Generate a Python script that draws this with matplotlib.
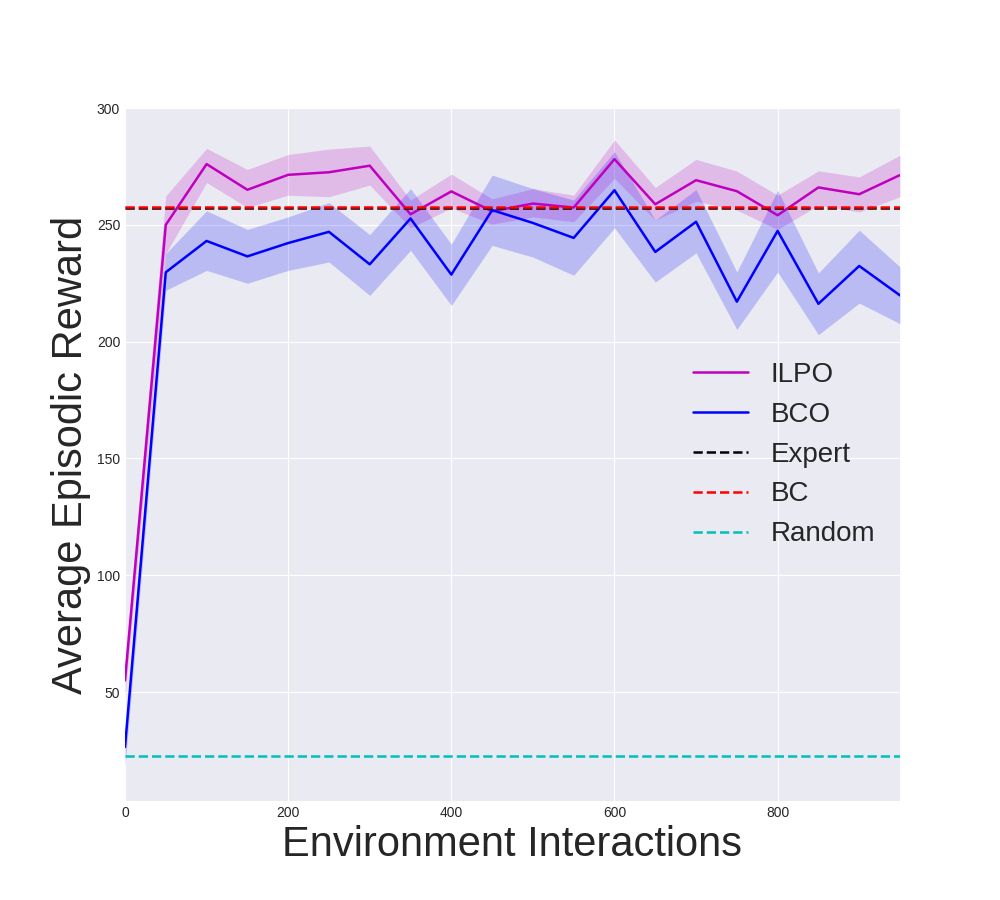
import matplotlib
matplotlib.use("Agg")
import matplotlib.pyplot as plt
import numpy as np

steps = [0, 50, 100, 150, 200, 250, 300, 350, 400, 450, 500, 550, 600, 650, 700, 750, 800, 850, 900, 950]

ilpo_mean = [55, 250, 276, 265, 271.4, 272.5, 275.3, 254.5, 264.3, 255.8, 259.1, 257.4, 278.1, 258.8, 269.1, 264.4, 254.1, 266, 263.1, 271.3]
ilpo_upper = [62, 262.4, 282.7, 273.7, 280.1, 282.4, 283.7, 260.6, 271.7, 261.1, 265.5, 262.7, 286.3, 266, 278, 273, 262.7, 273.1, 270.5, 279.8]
ilpo_lower = [48, 237.7, 268.1, 257.4, 262.7, 262, 267, 248.7, 257.2, 250.3, 253.4, 251.3, 269.9, 252, 260.1, 256.3, 248, 258.4, 255.5, 262]

bco_mean = [26.5, 229.7, 243.1, 236.5, 242.2, 247, 233.1, 252.7, 228.7, 256.3, 250.8, 244.4, 264.8, 238.4, 251.3, 217.1, 247.4, 216.2, 232.4, 219.8]
bco_upper = [33, 237.7, 256, 248, 253.4, 259.5, 245.8, 265.5, 241.7, 271.3, 265.5, 260.6, 281.3, 252, 265.1, 229.8, 264.8, 229.4, 247.7, 232]
bco_lower = [18, 222, 230.5, 225, 230.5, 234.1, 219.8, 239.1, 215.5, 241.2, 236.2, 228.4, 248.7, 225.5, 238, 205.2, 229.8, 203, 216.5, 207.7]

expert_value = 257.1
bc_value = 257.8
random_value = 22.8

plt.style.use("seaborn-v0_8-darkgrid")
fig, ax = plt.subplots(figsize=(10, 9), dpi=100)
fig.subplots_adjust(left=0.125, right=0.9, top=0.88, bottom=0.11)

ax.fill_between(steps, ilpo_lower, ilpo_upper, color="m", alpha=0.2, linewidth=0)
ax.plot(steps, ilpo_mean, color="m", linewidth=1.8, label="ILPO")
ax.fill_between(steps, bco_lower, bco_upper, color="b", alpha=0.2, linewidth=0)
ax.plot(steps, bco_mean, color="b", linewidth=1.8, label="BCO")
ax.axhline(expert_value, color="k", linestyle="--", linewidth=1.8, label="Expert")
ax.axhline(bc_value, color="r", linestyle="--", linewidth=1.8, label="BC")
ax.axhline(random_value, color="c", linestyle="--", linewidth=1.8, label="Random")

ax.set_xlim(0, 950)
ax.set_ylim(3.4, 300)
ax.set_xticks([0, 200, 400, 600, 800])
ax.set_yticks([50, 100, 150, 200, 250, 300])
ax.tick_params(labelsize=10)
ax.set_xlabel("Environment Interactions", fontsize=30)
ax.set_ylabel("Average Episodic Reward", fontsize=30)
ax.legend(loc="center right", fontsize=20, frameon=False)

fig.savefig("out.png", dpi=100)
